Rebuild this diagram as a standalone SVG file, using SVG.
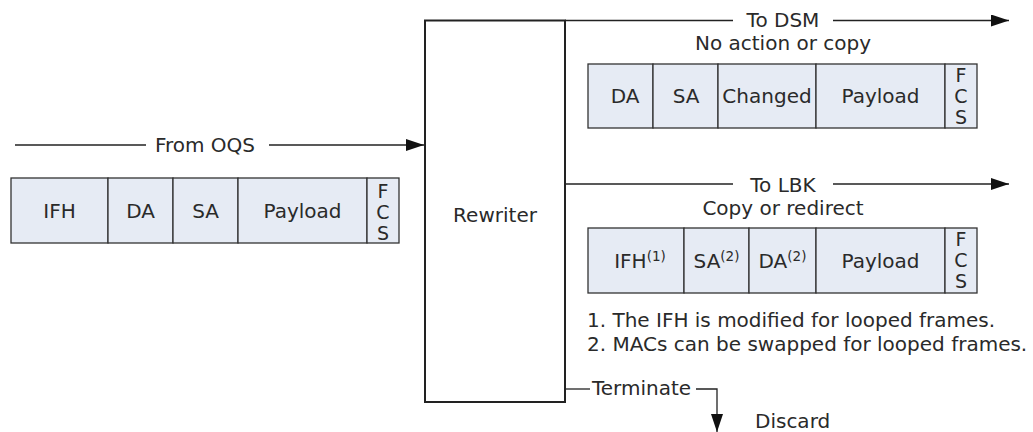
<svg xmlns="http://www.w3.org/2000/svg" width="1033" height="432" viewBox="0 0 1033 432">
<style>
text{font-family:"DejaVu Sans","Liberation Sans",sans-serif;font-size:20px;fill:#2a2a2a}
.m{text-anchor:middle}
.fcs{font-size:19px}
.cell{fill:#e6ebf4;stroke:#333;stroke-width:1.3}
.ln{fill:none;stroke:#222;stroke-width:1.3}
.sup{font-size:13.5px}
</style>
<defs>
<marker id="ah" markerUnits="userSpaceOnUse" markerWidth="19" markerHeight="12" refX="18" refY="6" orient="auto">
<path d="M0,0 L18,6 L0,12 z" fill="#111"/>
</marker>
</defs>
<g id="connectors">
<line class="ln" x1="15" y1="145" x2="146" y2="145"/>
<line class="ln" x1="269" y1="145" x2="424" y2="145" marker-end="url(#ah)"/>
<line class="ln" x1="565" y1="20.5" x2="733" y2="20.5"/>
<line class="ln" x1="833" y1="20.5" x2="1009" y2="20.5" marker-end="url(#ah)"/>
<line class="ln" x1="565" y1="184" x2="733" y2="184"/>
<line class="ln" x1="833" y1="184" x2="1009" y2="184" marker-end="url(#ah)"/>
<line class="ln" x1="565" y1="389" x2="590" y2="389"/>
<polyline class="ln" points="696,389 717,389 717,432" marker-end="url(#ah)"/>
<text class="m" x="205" y="152">From OQS</text>
<text class="m" x="783" y="27">To DSM</text>
<text class="m" x="783" y="50">No action or copy</text>
<text class="m" x="783" y="192">To LBK</text>
<text class="m" x="783" y="215">Copy or redirect</text>
<text x="592" y="395">Terminate</text>
<text x="755" y="428">Discard</text>
</g>
<g id="rewriter">
<rect x="425" y="20.5" width="140" height="381.5" fill="#fff" stroke="#222" stroke-width="2"/>
<text class="m" x="495" y="222">Rewriter</text>
</g>
<g id="frame-in">
<rect class="cell" x="11" y="178" width="97" height="65"/>
<rect class="cell" x="108" y="178" width="65" height="65"/>
<rect class="cell" x="173" y="178" width="65" height="65"/>
<rect class="cell" x="238" y="178" width="129" height="65"/>
<rect class="cell" x="367" y="178" width="32" height="65"/>
<text class="m" x="59.5" y="218">IFH</text>
<text class="m" x="140.5" y="218">DA</text>
<text class="m" x="205.5" y="218">SA</text>
<text class="m" x="302.5" y="218">Payload</text>
<text class="m fcs" x="383" y="198">F<tspan x="383" dy="21">C</tspan><tspan x="383" dy="21">S</tspan></text>
</g>
<g id="frame-dsm">
<rect class="cell" x="588" y="64" width="65" height="64"/>
<rect class="cell" x="653" y="64" width="65" height="64"/>
<rect class="cell" x="718" y="64" width="98" height="64"/>
<rect class="cell" x="816" y="64" width="129" height="64"/>
<rect class="cell" x="945" y="64" width="32" height="64"/>
<text class="m" x="625" y="103">DA</text>
<text class="m" x="686" y="103">SA</text>
<text class="m" x="767" y="103">Changed</text>
<text class="m" x="880.5" y="103">Payload</text>
<text class="m fcs" x="961" y="82">F<tspan x="961" dy="21">C</tspan><tspan x="961" dy="21">S</tspan></text>
</g>
<g id="frame-lbk">
<rect class="cell" x="588" y="228" width="96" height="65"/>
<rect class="cell" x="684" y="228" width="65" height="65"/>
<rect class="cell" x="749" y="228" width="67" height="65"/>
<rect class="cell" x="816" y="228" width="129" height="65"/>
<rect class="cell" x="945" y="228" width="32" height="65"/>
<text class="m" x="640" y="268">IFH<tspan class="sup" dy="-7">(1)</tspan></text>
<text class="m" x="716.5" y="268">SA<tspan class="sup" dy="-7">(2)</tspan></text>
<text class="m" x="782.5" y="268">DA<tspan class="sup" dy="-7">(2)</tspan></text>
<text class="m" x="880.5" y="268">Payload</text>
<text class="m fcs" x="961" y="246">F<tspan x="961" dy="21">C</tspan><tspan x="961" dy="21">S</tspan></text>
</g>
<g id="notes">
<text x="587" y="327">1. The IFH is modified for looped frames.</text>
<text x="587" y="351">2. MACs can be swapped for looped frames.</text>
</g>
</svg>
